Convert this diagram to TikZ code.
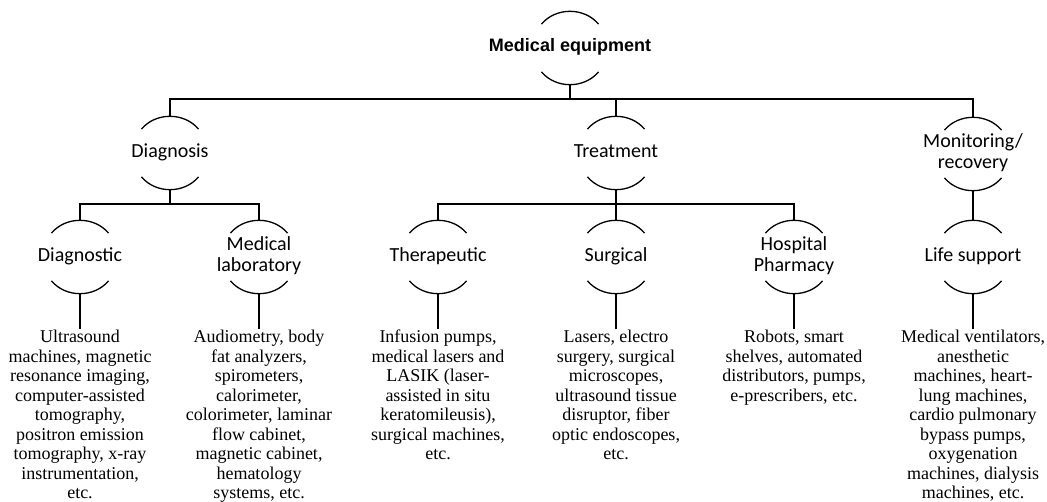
\documentclass[tikz,border=0pt]{standalone}
\usepackage{fontspec}
\setmainfont{Liberation Serif}
\newfontfamily\calfont{Carlito}
\newfontfamily\arialfont{Liberation Sans}
\newcommand{\lbl}[1]{\makebox[0pt]{\begin{tabular}{@{}c@{}}#1\end{tabular}}}

\begin{document}
\begin{tikzpicture}[x=1pt,y=1pt,
  arcline/.style={line width=1.3pt},
  ring/.style={circle,minimum size=74pt,inner sep=0pt,font=\calfont\fontsize{20}{21}\selectfont,
    append after command={(\tikzlastnode.40) edge[arcline,bend right=50] (\tikzlastnode.140)
      (\tikzlastnode.220) edge[arcline,bend right=50] (\tikzlastnode.320)}},
  leaf/.style={anchor=north,inner sep=1pt,align=center,font=\fontsize{18}{19.5}\selectfont},
  link/.style={line width=1.6pt}]
\useasboundingbox (0,0) rectangle (1047,-502);
% top and first level
\node[ring,font=\arialfont\bfseries\fontsize{18}{20}\selectfont] (root) at (570,-48) {\lbl{Medical equipment}};
\node[ring] (diagnosis) at (170,-153) {\lbl{Diagnosis}};
\node[ring] (treatment) at (616,-153) {\lbl{Treatment}};
\node[ring] (monitoring) at (973,-154) {\lbl{Monitoring/\\recovery}};
% second level
\node[ring] (diagnostic) at (80,-257) {\lbl{Diagnostic}};
\node[ring] (medlab) at (259,-257) {\lbl{Medical\\laboratory}};
\node[ring] (therapeutic) at (438,-257) {\lbl{Therapeutic}};
\node[ring] (surgical) at (616,-257) {\lbl{Surgical}};
\node[ring] (pharmacy) at (794,-257) {\lbl{Hospital\\Pharmacy}};
\node[ring] (lifesupport) at (973,-257) {\lbl{Life support}};
% examples
\node[leaf] (imaging) at (80,-329) {Ultrasound\\machines, magnetic\\resonance imaging,\\computer-assisted\\tomography,\\positron emission\\tomography, x-ray\\instrumentation,\\etc.};
\node[leaf] (labtools) at (259,-329) {Audiometry, body\\fat analyzers,\\spirometers,\\calorimeter,\\colorimeter, laminar\\flow cabinet,\\magnetic cabinet,\\hematology\\systems, etc.};
\node[leaf] (infusion) at (438,-329) {Infusion pumps,\\medical lasers and\\LASIK (laser-\\assisted in situ\\keratomileusis),\\surgical machines,\\etc.};
\node[leaf] (lasers) at (616,-329) {Lasers, electro\\surgery, surgical\\microscopes,\\ultrasound tissue\\disruptor, fiber\\optic endoscopes,\\etc.};
\node[leaf] (robots) at (794,-329) {Robots, smart\\shelves, automated\\distributors, pumps,\\e-prescribers, etc.};
\node[leaf] (ventilators) at (973,-329) {Medical ventilators,\\anesthetic\\machines, heart-\\lung machines,\\cardio pulmonary\\bypass pumps,\\oxygenation\\machines, dialysis\\machines, etc.};
% connectors
\coordinate (bus) at (570,-99);
\coordinate (diagbus) at (170,-204);
\coordinate (treatbus) at (616,-204);
\draw[link] (root.south) -- (bus);
\draw[link] (diagnosis.north) |- (bus) -| (monitoring.north);
\draw[link] (treatment.north) -- (treatment.north |- bus);
\draw[link] (diagnosis.south) -- (diagbus);
\draw[link] (diagnostic.north) |- (diagbus) -| (medlab.north);
\draw[link] (treatment.south) -- (surgical.north);
\draw[link] (therapeutic.north) |- (treatbus) -| (pharmacy.north);
\draw[link] (monitoring.south) -- (lifesupport.north);
\foreach \a/\b in {diagnostic/imaging,medlab/labtools,therapeutic/infusion,surgical/lasers,pharmacy/robots,lifesupport/ventilators}
  \draw[link] (\a.south) -- (\b.north);
\end{tikzpicture}
\end{document}
